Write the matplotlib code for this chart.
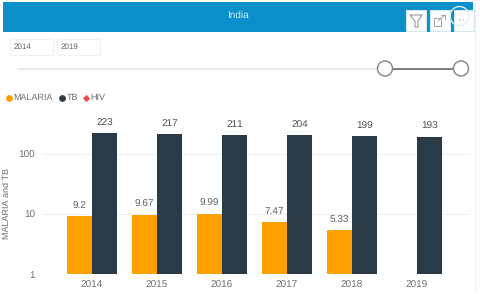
import numpy as np
import matplotlib
matplotlib.use("Agg")
import matplotlib.pyplot as plt
from matplotlib.patches import Rectangle, Circle, Polygon

plt.rcParams["font.family"] = ["Liberation Sans", "DejaVu Sans"]
plt.rcParams["text.hinting"] = "no_hinting"
plt.rcParams["text.hinting_factor"] = 1

# data
years = ["2014", "2015", "2016", "2017", "2018", "2019"]
malaria = [9.2, 9.67, 9.99, 7.47, 5.33, None]
tb = [223, 217, 211, 204, 199, 193]
legend_names = ["MALARIA", "TB", "HIV"]

ORANGE = "#FF9F00"
DARK = "#2A3B47"
RED = "#EE4B4B"
BLUE = "#0A8FCB"
GREY = "#707070"

W, H = 480, 294
fig = plt.figure(figsize=(W / 100, H / 100), dpi=100)

# ---- chart ----
ax = fig.add_axes([42 / W, 1 - 274 / H, 428 / W, 150 / H])
x = np.arange(len(years))
bw = 0.39
for i in x:
    if malaria[i] is not None:
        ax.bar(i - bw / 2, malaria[i], bw, color=ORANGE, bottom=0.001, zorder=2)
        ax.annotate(str(malaria[i]), (i - bw / 2, malaria[i]), xytext=(0, 4),
                    textcoords="offset points", ha="center", va="bottom",
                    fontsize=7.5, color="#606060", zorder=3)
    ax.bar(i + bw / 2, tb[i], bw, color=DARK, bottom=0.001, zorder=2)
    ax.annotate(str(tb[i]), (i + bw / 2, tb[i]), xytext=(0, 4),
                textcoords="offset points", ha="center", va="bottom",
                fontsize=7.5, color="#505050", zorder=3)

ax.set_yscale("log")
ax.set_ylim(1, 10 ** 2.5)
ax.set_xlim(-0.77, 5.815)
ax.set_yticks([1, 10, 100])
ax.set_yticklabels(["1", "10", "100"])
ax.minorticks_off()
ax.set_xticks(x)
ax.set_xticklabels(years)
ax.tick_params(length=0, labelsize=7.2, labelcolor=GREY, pad=4.5)
ax.tick_params(axis="y", pad=5)
ax.grid(axis="y", color="#F0F0F0", lw=0.8, zorder=0)
for s in ax.spines.values():
    s.set_visible(False)
ax.patch.set_alpha(0)
ax.set_ylabel("MALARIA and TB", fontsize=6.2, color=GREY)
ax.yaxis.set_label_coords(-0.073, 0.473)

# ---- header, date boxes, slider, legend drawn in pixel space ----
ov = fig.add_axes([0, 0, 1, 1], zorder=5)
ov.set_xlim(0, W)
ov.set_ylim(H, 0)
ov.axis("off")

ov.add_patch(Rectangle((3, 2), 470, 30, fc=BLUE, ec="none"))
ov.text(238, 15, "India", color="#D5EEF8", fontsize=7, ha="center", va="center")
ov.plot([475, 475], [2, 290], color="#F0F0F0", lw=0.8)

# header buttons
for bx in [406, 430, 454]:
    ov.add_patch(Rectangle((bx, 10), 19.5, 20.5, fc="white", ec="#CFE8F4", lw=0.8))
ov.add_patch(Polygon([(410, 15), (422, 15), (418, 21), (418, 27), (415, 27), (415, 21)],
                     closed=True, fc="none", ec="#8A8A8A", lw=0.7))
ov.add_patch(Rectangle((433.5, 18), 7, 8, fc="none", ec="#A5A5A5", lw=0.7))
ov.plot([438, 445], [21, 15], color="#A5A5A5", lw=0.7)
ov.plot([441, 445, 445], [15, 15, 19], color="#A5A5A5", lw=0.7)
ov.add_patch(Circle((459.5, 16), 9.5, fc="none", ec="#DDEFF7", lw=1.0))
ov.text(461, 20, "···", color="#777777", fontsize=6, ha="center", va="center")

# date boxes
for bx, label in zip([10, 57], ["2014", "2019"]):
    ov.add_patch(Rectangle((bx, 39), 43, 16, fc="white", ec="#F2F2F2", lw=0.8))
    ov.text(bx + 4, 47, label, fontsize=5.8, color="#606060", va="center")

# slider
ov.plot([18, 385], [68.5, 68.5], color="#E4E4E4", lw=1.2)
ov.plot([385, 461], [68.5, 68.5], color="#666666", lw=1.2)
for cx in [385, 461]:
    ov.add_patch(Circle((cx, 68.5), 7.5, fc="white", ec="#8C8C8C", lw=1.1, zorder=4))

# legend
ov.scatter([9], [98], s=24, color=ORANGE, lw=0)
ov.text(13.5, 97.5, legend_names[0], fontsize=6.8, color=GREY, va="center")
ov.scatter([62], [98], s=24, color=DARK, lw=0)
ov.text(67, 97.5, legend_names[1], fontsize=6.8, color=GREY, va="center")
ov.scatter([86], [98], s=14, color=RED, marker="D", lw=0)
ov.text(90.5, 97.5, legend_names[2], fontsize=6.8, color=GREY, va="center")

fig.savefig("out.png", dpi=100)
